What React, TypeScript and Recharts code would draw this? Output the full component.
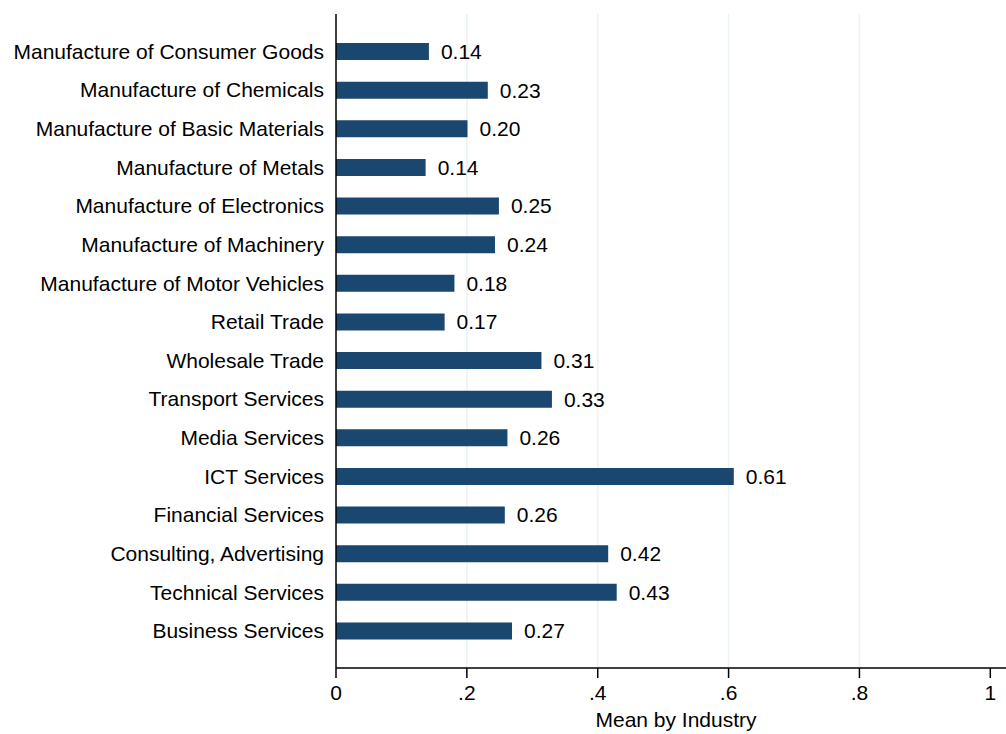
import React from "react"
import { BarChart, Bar, XAxis, YAxis, CartesianGrid, LabelList } from "recharts"

const industries = [
  "Manufacture of Consumer Goods",
  "Manufacture of Chemicals",
  "Manufacture of Basic Materials",
  "Manufacture of Metals",
  "Manufacture of Electronics",
  "Manufacture of Machinery",
  "Manufacture of Motor Vehicles",
  "Retail Trade",
  "Wholesale Trade",
  "Transport Services",
  "Media Services",
  "ICT Services",
  "Financial Services",
  "Consulting, Advertising",
  "Technical Services",
  "Business Services",
]

const means = [
  0.142, 0.232, 0.201, 0.137, 0.249, 0.243, 0.181, 0.166,
  0.314, 0.33, 0.262, 0.608, 0.258, 0.416, 0.429, 0.269,
]

const xTicks = [0, 0.2, 0.4, 0.6, 0.8, 1]
const gridValues = [0.2, 0.4, 0.6, 0.8]

const data = industries.map((name, i) => ({ name, value: means[i] }))

const FONT = "'Liberation Sans', Arial, Helvetica, sans-serif"
const NAVY = "#1a476f"

// stata style: 0 stays "0", others lose leading zero
const fmtTick = (v: number) => (v === 0 ? "0" : v === 1 ? "1" : String(v).replace(/^0/, ""))

export default function App() {
  return (
    <div style={{ position: "absolute", left: 0, top: 0, width: 1006, height: 734, background: "#fff", fontFamily: FONT }}>
      <BarChart
        width={1006}
        height={734}
        data={data}
        layout="vertical"
        margin={{ top: 14, right: 0, left: 0, bottom: 0 }}
      >
        <CartesianGrid
          horizontal={false}
          verticalValues={gridValues}
          stroke="#eaf2f3"
          strokeWidth={1.5}
        />
        <XAxis
          type="number"
          domain={[0, 1.024]}
          ticks={xTicks}
          tickFormatter={fmtTick}
          height={66}
          tickSize={10}
          tickMargin={7}
          stroke="#000"
          strokeWidth={1.5}
          tick={{ fill: "#000", fontSize: 21, fontFamily: FONT }}
          label={{
            value: "Mean by Industry",
            position: "insideBottom",
            offset: 7,
            dx: 5,
            fill: "#000",
            fontSize: 21,
            fontFamily: FONT,
          }}
        />
        <YAxis
          type="category"
          dataKey="name"
          width={336}
          tickLine={false}
          tickSize={0}
          tickMargin={12}
          interval={0}
          padding={{ top: 18, bottom: 18 }}
          stroke="#000"
          strokeWidth={1.5}
          tick={{ fill: "#000", fontSize: 21, fontFamily: FONT }}
        />
        <Bar dataKey="value" fill={NAVY} barSize={17} isAnimationActive={false}>
          <LabelList
            dataKey="value"
            position="right"
            offset={12}
            formatter={(v: number) => v.toFixed(2)}
            fill="#000"
            fontSize={21}
            fontFamily={FONT}
          />
        </Bar>
      </BarChart>
    </div>
  )
}
